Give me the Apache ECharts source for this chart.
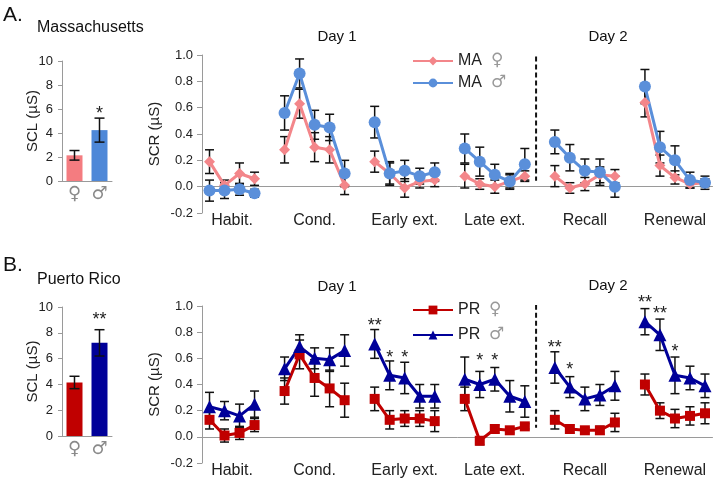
<!DOCTYPE html>
<html><head><meta charset="utf-8">
<script src="https://cdn.jsdelivr.net/npm/echarts@6/dist/echarts.min.js"></script>
<style>html,body{margin:0;padding:0;background:#fff}#c{width:719px;height:481px}</style>
</head><body><div id="c"></div>
<script>
// ---------- data ----------
const phases = ['Habit.', 'Cond.', 'Early ext.', 'Late ext.', 'Recall', 'Renewal'];
const sexLabels = ['♀', '♂'];

// Panel A – Massachusetts
const maSCL = [2.14, 4.24];
const maSCLerr = [0.40, 1.00];
const maSCLstars = [null, '*'];
const maSCLstarY = [null, 5.9];
const maFemale = [[0.19, 0.01, 0.10, 0.06], [0.28, 0.63, 0.30, 0.28, 0.01], [0.19, 0.10, -0.01, 0.04, 0.05], [0.08, 0.02, 0.00, 0.04, 0.08], [0.08, -0.01, 0.02, 0.09, 0.08], [0.64, 0.16, 0.07, 0.02, 0.03]];
const maFemaleErr = [[0.09, 0.04, 0.08, 0.05], [0.10, 0.11, 0.11, 0.10, 0.07], [0.08, 0.08, 0.07, 0.05, 0.05], [0.09, 0.04, 0.05, 0.05, 0.04], [0.08, 0.04, 0.05, 0.06, 0.05], [0.11, 0.08, 0.05, 0.03, 0.03]];
const maMale = [[-0.03, -0.03, -0.02, -0.05], [0.56, 0.86, 0.47, 0.45, 0.10], [0.49, 0.10, 0.12, 0.08, 0.11], [0.29, 0.19, 0.09, 0.04, 0.17], [0.34, 0.22, 0.12, 0.11, 0.00], [0.76, 0.30, 0.20, 0.05, 0.03]];
const maMaleErr = [[0.08, 0.06, 0.045, 0.03], [0.13, 0.11, 0.11, 0.10, 0.10], [0.12, 0.09, 0.08, 0.06, 0.07], [0.11, 0.11, 0.08, 0.06, 0.12], [0.09, 0.10, 0.09, 0.10, 0.08], [0.13, 0.12, 0.11, 0.06, 0.05]];

// Panel B – Puerto Rico
const prSCL = [4.15, 7.22];
const prSCLerr = [0.48, 1.02];
const prSCLstars = [null, '**'];
const prSCLstarY = [null, 9.3];
const prFemale = [[0.13, 0.01, 0.03, 0.09], [0.35, 0.63, 0.45, 0.37, 0.28], [0.29, 0.13, 0.14, 0.14, 0.12], [0.29, -0.03, 0.06, 0.05, 0.08], [0.13, 0.06, 0.05, 0.05, 0.11], [0.40, 0.20, 0.14, 0.16, 0.18]];
const prFemaleErr = [[0.07, 0.05, 0.05, 0.05], [0.10, 0.11, 0.14, 0.14, 0.13], [0.09, 0.07, 0.06, 0.06, 0.08], [0.09, 0.03, 0.03, 0.02, 0.02], [0.07, 0.03, 0.02, 0.03, 0.07], [0.08, 0.06, 0.07, 0.07, 0.08]];
const prMale = [[0.23, 0.20, 0.16, 0.25], [0.52, 0.69, 0.60, 0.59, 0.66], [0.71, 0.47, 0.45, 0.31, 0.31], [0.44, 0.40, 0.44, 0.31, 0.27], [0.53, 0.38, 0.29, 0.32, 0.39], [0.88, 0.78, 0.47, 0.45, 0.39]];
const prMaleErr = [[0.11, 0.07, 0.09, 0.10], [0.09, 0.09, 0.08, 0.09, 0.12], [0.11, 0.11, 0.12, 0.09, 0.09], [0.17, 0.10, 0.09, 0.12, 0.12], [0.12, 0.08, 0.09, 0.08, 0.11], [0.10, 0.12, 0.14, 0.09, 0.09]];
// significance stars: [phase, point, y level, text]
const prStars = [[2, 0, 0.88, '**'], [2, 1, 0.63, '*'], [2, 2, 0.63, '*'], [3, 1, 0.61, '*'], [3, 2, 0.61, '*'], [4, 0, 0.71, '**'], [4, 1, 0.54, '*'], [5, 0, 1.05, '**'], [5, 1, 0.97, '**'], [5, 2, 0.68, '*']];

const scrTicks = { min: -0.2, max: 1.0, interval: 0.2 };
const sclTicks = { min: 0, max: 10, interval: 2 };

// ---------- layout helpers ----------
const FONT = "'Liberation Sans', Arial, sans-serif";
const sizes = maFemale.map(g => g.length);
const startIdx = []; let kk = 0;
sizes.forEach(n => { startIdx.push(kk); kk += n + 1; });
const nCat = kk - 1;
const categories = [];
phases.forEach((p, i) => {
  if (i > 0) categories.push(' '.repeat(i));
  for (let j = 0; j < sizes[i]; j++) categories.push(p + ' ' + (j + 1));
});
function flat(nested) {
  const out = [];
  nested.forEach((g, i) => { if (i > 0) out.push('-'); g.forEach(v => out.push(v)); });
  return out;
}
function errData(vals, errs) {
  const v = flat(vals), e = flat(errs), out = [];
  v.forEach((y, i) => { if (y !== '-') out.push([i, y, e[i]]); });
  return out;
}
const labelPos = {};
phases.forEach((p, i) => { labelPos[Math.round((startIdx[i] + (sizes[i] - 1) / 2) * 2)] = p; });
const dashX = startIdx[4] - 1 - 0.25;

function errRender(cap, width) {
  return function (params, api) {
    const x = api.value(0), y = api.value(1), e = api.value(2);
    const hi = api.coord([x, y + e]), lo = api.coord([x, y - e]);
    const st = { stroke: '#111', lineWidth: width };
    return { type: 'group', children: [
      { type: 'line', shape: { x1: hi[0], y1: hi[1], x2: lo[0], y2: lo[1] }, style: st },
      { type: 'line', shape: { x1: hi[0] - cap, y1: hi[1], x2: hi[0] + cap, y2: hi[1] }, style: st },
      { type: 'line', shape: { x1: lo[0] - cap, y1: lo[1], x2: lo[0] + cap, y2: lo[1] }, style: st }
    ] };
  };
}
function starSeries(xi, yi, pts, texts, size) {
  return {
    type: 'custom', xAxisIndex: xi, yAxisIndex: yi, z: 10, silent: true,
    data: pts,
    renderItem: (params, api) => {
      const c = api.coord([api.value(0), api.value(1)]);
      return { type: 'text', x: c[0], y: c[1] + 4, style: { text: texts[params.dataIndex], fontSize: size, fontFamily: FONT, fill: '#222', align: 'center', verticalAlign: 'middle' } };
    }
  };
}

const axisGray = '#9a9a9a';
function barX(gi) {
  return { type: 'category', gridIndex: gi, data: sexLabels,
    axisLine: { lineStyle: { color: axisGray } }, axisTick: { show: false },
    axisLabel: { color: '#8a8a8a', fontSize: 18, margin: 4, fontFamily: 'DejaVu Sans' } };
}
function barY(gi) {
  return { type: 'value', gridIndex: gi, ...sclTicks, name: 'SCL (µS)', nameLocation: 'middle', nameGap: 22, nameMoveOverlap: false,
    nameTextStyle: { fontSize: 15, color: '#222', fontFamily: FONT },
    axisLine: { show: true, lineStyle: { color: axisGray } }, axisTick: { show: true, length: 4, lineStyle: { color: axisGray } },
    splitLine: { show: false }, axisLabel: { fontSize: 13, color: '#222', margin: 9, fontFamily: FONT } };
}
function lineCatX(gi) {
  return { type: 'category', gridIndex: gi, data: categories, boundaryGap: true,
    axisLine: { onZero: true, lineStyle: { color: axisGray } }, axisTick: { show: false }, axisLabel: { show: false } };
}
function lineLabelX(gi) {
  return { type: 'value', gridIndex: gi, position: 'bottom', min: -0.5, max: nCat - 0.5, interval: 0.5,
    axisLine: { show: false, onZero: false }, axisTick: { show: false }, splitLine: { show: false },
    axisLabel: { fontSize: 16, color: '#222', margin: 0, fontFamily: FONT, showMinLabel: true, showMaxLabel: true,
      formatter: v => labelPos[Math.round(v * 2)] || '' } };
}
function lineY(gi) {
  return { type: 'value', gridIndex: gi, ...scrTicks, name: 'SCR (µS)', nameLocation: 'middle', nameGap: 40, nameMoveOverlap: false,
    nameTextStyle: { fontSize: 15, color: '#222', fontFamily: FONT },
    axisLine: { show: true, onZero: false, lineStyle: { color: axisGray } }, axisTick: { show: true, length: 5, lineStyle: { color: axisGray } },
    splitLine: { show: false }, axisLabel: { fontSize: 13, color: '#222', margin: 9, fontFamily: FONT, formatter: v => v.toFixed(1) } };
}
function lineSeries(name, xi, yi, vals, color, symbol, size) {
  return { name, type: 'line', xAxisIndex: xi, yAxisIndex: yi, data: flat(vals), z: 5,
    symbol, symbolSize: size, showAllSymbol: true, connectNulls: false,
    lineStyle: { color, width: 3 }, itemStyle: { color }, emphasis: { disabled: true } };
}
function barSeries(xi, yi, vals, colors) {
  return { type: 'bar', xAxisIndex: xi, yAxisIndex: yi, barWidth: 16,
    data: vals.map((v, i) => ({ value: v, itemStyle: { color: colors[i] } })) };
}
function dashSeries(xi, yi, top, bottom) {
  return { type: 'line', xAxisIndex: xi, yAxisIndex: yi, data: [[dashX, top], [dashX, bottom]], symbol: 'none', z: 3,
    lineStyle: { color: '#111', width: 2, type: [5, 3] }, silent: true };
}
function legend(names, top, gap) {
  return { data: names, orient: 'vertical', left: 407, top, itemWidth: 40, itemHeight: 11, itemGap: gap,
    textStyle: { fontSize: 16, color: '#222', fontFamily: FONT, lineHeight: 18,
      rich: { t: { fontSize: 16, color: '#222', fontFamily: FONT }, s: { fontSize: 17, color: '#999', fontFamily: 'DejaVu Sans' } } },
    formatter: n => { const p = n.split(' '); return '{t|' + p[0] + '}  {s|' + p[1] + '}'; } };
}

const maCol = ['#F47C80', '#4E88D8'];
const maLine = ['#F3868A', '#5A8FDA'];
const prCol = ['#C00000', '#000099'];

const option = {
  animation: false,
  textStyle: { fontFamily: FONT },
  grid: [
    { left: 62, top: 61, width: 50, height: 120 },
    { left: 202, top: 55, width: 510.5, height: 158 },
    { left: 62, top: 307, width: 50, height: 129 },
    { left: 202, top: 306, width: 510.5, height: 157 }
  ],
  xAxis: [barX(0), lineCatX(1), lineLabelX(1), barX(2), lineCatX(3), lineLabelX(3)],
  yAxis: [barY(0), lineY(1), barY(2), lineY(3)],
  legend: [legend(['MA ♀', 'MA ♂'], 47, 4), legend(['PR ♀', 'PR ♂'], 296, 7)],
  graphic: [
    { type: 'text', left: 3, top: 5, style: { text: 'A.', fontSize: 21, fill: '#111', fontFamily: FONT } },
    { type: 'text', left: 37, top: 20, style: { text: 'Massachusetts', fontSize: 16, fill: '#111', fontFamily: FONT } },
    { type: 'text', left: 3, top: 255, style: { text: 'B.', fontSize: 21, fill: '#111', fontFamily: FONT } },
    { type: 'text', left: 37, top: 272, style: { text: 'Puerto Rico', fontSize: 16, fill: '#111', fontFamily: FONT } },
    { type: 'text', x: 337, y: 37, style: { text: 'Day 1', fontSize: 15, fill: '#111', fontFamily: FONT, align: 'center', verticalAlign: 'middle' } },
    { type: 'text', x: 608, y: 37, style: { text: 'Day 2', fontSize: 15, fill: '#111', fontFamily: FONT, align: 'center', verticalAlign: 'middle' } },
    { type: 'text', x: 337, y: 287, style: { text: 'Day 1', fontSize: 15, fill: '#111', fontFamily: FONT, align: 'center', verticalAlign: 'middle' } },
    { type: 'text', x: 608, y: 286, style: { text: 'Day 2', fontSize: 15, fill: '#111', fontFamily: FONT, align: 'center', verticalAlign: 'middle' } }
  ],
  series: [
    // A bars
    barSeries(0, 0, maSCL, maCol),
    { type: 'custom', xAxisIndex: 0, yAxisIndex: 0, z: 6, data: maSCL.map((v, i) => [i, v, maSCLerr[i]]), renderItem: errRender(5, 1.5) },
    starSeries(0, 0, maSCLstarY.map((y, i) => [i, y]).filter(d => d[1] != null), maSCLstars.filter(s => s), 18),
    // A lines
    dashSeries(2, 1, 1.05, 0.045),
    { type: 'custom', xAxisIndex: 1, yAxisIndex: 1, z: 4, data: errData(maFemale, maFemaleErr), renderItem: errRender(4.5, 1.5) },
    { type: 'custom', xAxisIndex: 1, yAxisIndex: 1, z: 4, data: errData(maMale, maMaleErr), renderItem: errRender(4.5, 1.5) },
    lineSeries('MA ♀', 1, 1, maFemale, maLine[0], 'diamond', 11),
    lineSeries('MA ♂', 1, 1, maMale, maLine[1], 'circle', 12),
    // B bars
    barSeries(3, 2, prSCL, prCol),
    { type: 'custom', xAxisIndex: 3, yAxisIndex: 2, z: 6, data: prSCL.map((v, i) => [i, v, prSCLerr[i]]), renderItem: errRender(5, 1.5) },
    starSeries(3, 2, prSCLstarY.map((y, i) => [i, y]).filter(d => d[1] != null), prSCLstars.filter(s => s), 18),
    // B lines
    dashSeries(5, 3, 1.07, 0.07),
    { type: 'custom', xAxisIndex: 4, yAxisIndex: 3, z: 4, data: errData(prFemale, prFemaleErr), renderItem: errRender(4.5, 1.5) },
    { type: 'custom', xAxisIndex: 4, yAxisIndex: 3, z: 4, data: errData(prMale, prMaleErr), renderItem: errRender(4.5, 1.5) },
    lineSeries('PR ♀', 4, 3, prFemale, prCol[0], 'rect', 10),
    lineSeries('PR ♂', 4, 3, prMale, prCol[1], 'triangle', 13),
    starSeries(4, 3, prStars.map(s => [startIdx[s[0]] + s[1], s[2]]), prStars.map(s => s[3]), 18)
  ]
};
const chart = echarts.init(document.getElementById('c'), null, { renderer: 'canvas' });
chart.setOption(option);
</script>
</body></html>
